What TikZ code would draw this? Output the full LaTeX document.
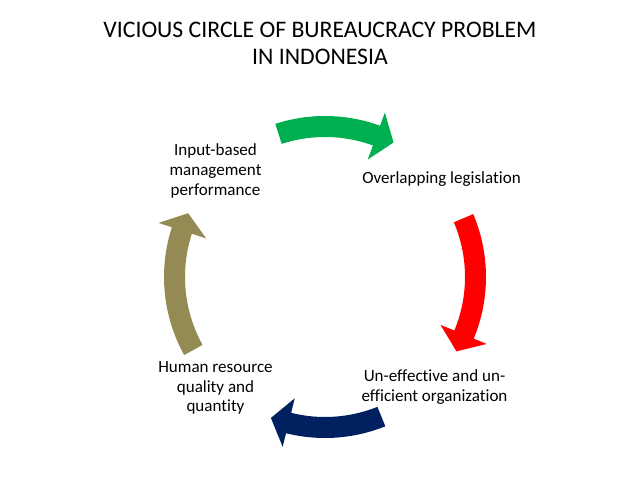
\documentclass[tikz,border=0pt]{standalone}
\usepackage{fontspec}
\setmainfont{Carlito}[Ligatures=NoCommon]
\usepackage{tikz}
\usetikzlibrary{positioning}
\usepackage{xcolor}
\definecolor{arrgreen}{RGB}{0,176,80}
\definecolor{arrred}{RGB}{255,0,0}
\definecolor{arrnavy}{RGB}{0,32,96}
\definecolor{arrolive}{RGB}{148,138,84}

\begin{document}
\begin{tikzpicture}[label/.style={align=center, font=\fontsize{9.7}{11.2}\selectfont, inner sep=0pt},
  title/.style={align=center, font=\fontsize{13.5}{15.5}\selectfont, inner sep=0pt}]
\useasboundingbox (0,0) rectangle (12.76,9.58);

\node [title] (title) at (6.4,8.71) {VICIOUS CIRCLE OF BUREAUCRACY PROBLEM\\IN INDONESIA};

\node [label] (input) at (4.31,6.16) {Input-based\\management\\performance};
\node [label] (overlap) at (8.83,6.0) {Overlapping legislation};
\node [label] (uneff) at (8.69,1.84) {Un-effective and un-\\efficient organization};
\node [label] (human) at (4.31,1.82) {Human resource\\quality and\\quantity};

% the four curved block arrows round one centre
\begin{scope}[shift={(6.5,4.04)}]
\fill [arrgreen] (108:3.22) arc[start angle=108, end angle=70, radius=3.22] -- (70:3.5) -- (63:3.02) -- (70:2.5) -- (70:2.8) arc[start angle=70, end angle=108, radius=2.8] -- cycle;
\fill [arrred] (23:3.22) arc[start angle=23, end angle=-22.5, radius=3.22] -- (-22.5:3.5) -- (-29.5:3.02) -- (-22.5:2.5) -- (-22.5:2.8) arc[start angle=-22.5, end angle=23, radius=2.8] -- cycle;
\fill [arrnavy] (-68:3.22) arc[start angle=-68, end angle=-104, radius=3.22] -- (-104:3.5) -- (-111:3.02) -- (-104:2.5) -- (-104:2.8) arc[start angle=-104, end angle=-68, radius=2.8] -- cycle;
\fill [arrolive] (209:3.22) arc[start angle=209, end angle=162, radius=3.22] -- (162:3.5) -- (155:3.02) -- (162:2.5) -- (162:2.8) arc[start angle=162, end angle=209, radius=2.8] -- cycle;
\end{scope}

\end{tikzpicture}
\end{document}
